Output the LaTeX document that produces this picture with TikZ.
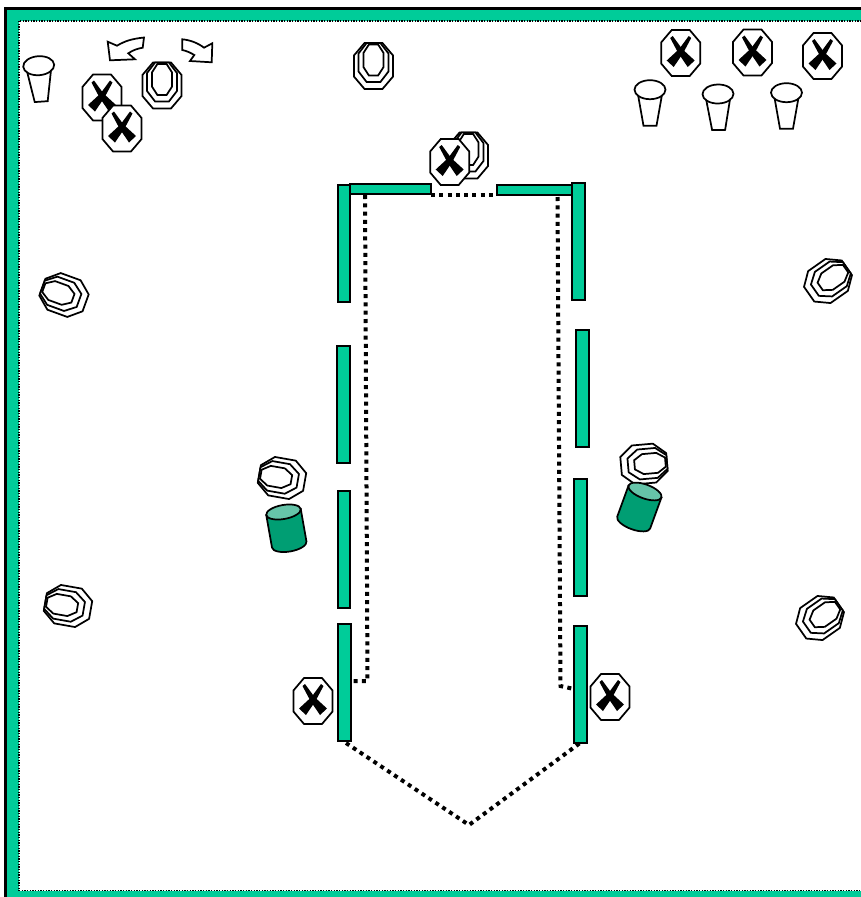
\documentclass[tikz,border=0pt]{standalone}
\definecolor{hallTeal}{HTML}{00CC99}
\definecolor{barrelBody}{HTML}{009E73}
\definecolor{barrelTop}{HTML}{66C4A9}
% Octagon: centre y, half width, half height
\newcommand{\octa}[3]{(-0.46*#2,#1-#3) -- (0.46*#2,#1-#3) -- (#2,#1-0.46*#3) -- (#2,#1+0.46*#3) -- (0.46*#2,#1+#3) -- (-0.46*#2,#1+#3) -- (-#2,#1+0.46*#3) -- (-#2,#1-0.46*#3) -- cycle}
\tikzset{
  hall border/.style={draw=black, fill=hallTeal, line width=2pt},
  hall floor/.style={draw=black, fill=white, line width=1.1pt, dash pattern=on 1pt off 1pt},
  hall wall/.style={draw=black, fill=hallTeal, line width=1.5pt},
  hall route/.style={draw=black, line width=3pt, dash pattern=on 3pt off 3.2pt},
  hall shape/.style={draw=black, fill=white, line width=1.3pt, line join=miter},
  hall turn/.style={draw=black, fill=white, line width=1.3pt},
  sign/.pic={
    \draw[hall shape] \octa{0}{19.5}{23};
    \fill[black] (-10.5,-15) -- (-8,-17) -- (1.5,-4) -- (14,7.5) -- (7,14) -- (-2.5,0) -- cycle;
    \fill[black] (10.5,-15) -- (8,-17) -- (-1.5,-4) -- (-14,7.5) -- (-7,14) -- (2.5,0) -- cycle;
  },
  rings/.pic={
    \draw[hall shape] \octa{0}{19.5}{23};
    \draw[hall shape] \octa{-3.5}{15}{19.5};
    \draw[hall shape] \octa{-6}{10}{15.5};
  },
  cup/.pic={
    \draw[hall shape] (-12,5) -- (-6.5,36) -- (6.5,36) -- (12,5) -- cycle;
    \draw[hall shape] (0,0) ellipse (15.5 and 9.5);
  },
  barrel/.pic={
    \draw[hall shape, fill=barrelBody] (-17.5,0) -- (-17.5,33) arc[start angle=180, end angle=0, x radius=17.5, y radius=7] -- (17.5,0) -- cycle;
    \draw[hall shape, fill=barrelTop] (0,0) ellipse (17.5 and 7);
  },
}

\begin{document}
\begin{tikzpicture}[x=0.75pt, y=-0.75pt]
  \useasboundingbox (0,0) rectangle (861,897);
  \clip (0,0) rectangle (861,897);
  % Hall border and floor
  \draw[hall border] (5.5,8.5) rectangle (880,920);
  \draw[hall floor] (19,21) rectangle (880,890.5);
  % Turn arrows
  \draw[hall turn] (144,37.5) .. controls (131,39) and (125,41) .. (117,45.7) -- (107.7,41.7) -- (110,60.3) -- (135,59.3) -- (128.3,53.3) .. controls (133,50) and (138,48.5) .. (142.7,47.7) -- cycle;
  \draw[hall turn] (182.3,39.3) -- (182.3,50) .. controls (187,51) and (191,53) .. (194.3,55) -- (190,61) -- (211.7,62.3) -- (212.3,43.3) -- (204,47.7) .. controls (198,43) and (190,40) .. (182.3,39.3) -- cycle;
  % Side walls
  \foreach \x/\y in {337.5/185, 337/346, 337.5/491, 338/624, 572/183, 576/330, 574/479, 574/626}
    \draw[hall wall] (\x,\y) rectangle ++(12.5,116.5);
  % Top walls
  \draw[hall wall] (350,184) rectangle (431,194);
  \draw[hall wall] (497,185) rectangle (572,194.5);
  % Dotted route
  \draw[hall route] (431,194.5) -- (494,194.5);
  \draw[hall route] (365,195) -- (367.5,681) -- (353,681);
  \draw[hall route] (557.5,197) -- (560.5,686) -- (574,689);
  \draw[hall route] (346,743) -- (469,825) -- (580,743);
  % Rings
  \foreach \x/\y/\a in {162/85.5/0, 373.5/66/0, 468.5/155.5/0, 64/295/70, 828/281/-55, 282/478/80, 644/464/-85, 68/606/80, 820/618/-55}
    \pic[rotate=\a] at (\x,\y) {rings};
  % Cups
  \foreach \x/\y/\a in {38.7/65.7/4, 650/89.7/0, 718/94/1, 786.5/92.7/0}
    \pic[rotate=\a] at (\x,\y) {cup};
  % Barrels
  \pic[rotate=10] at (283.5,512) {barrel};
  \pic[rotate=-20] at (645,491.5) {barrel};
  % Signs
  \foreach \x/\y in {102/97.5, 122/128.5, 449.7/162, 680.7/53, 752.5/52.5, 822.5/56, 313/701, 610/697}
    \pic at (\x,\y) {sign};
\end{tikzpicture}
\end{document}
